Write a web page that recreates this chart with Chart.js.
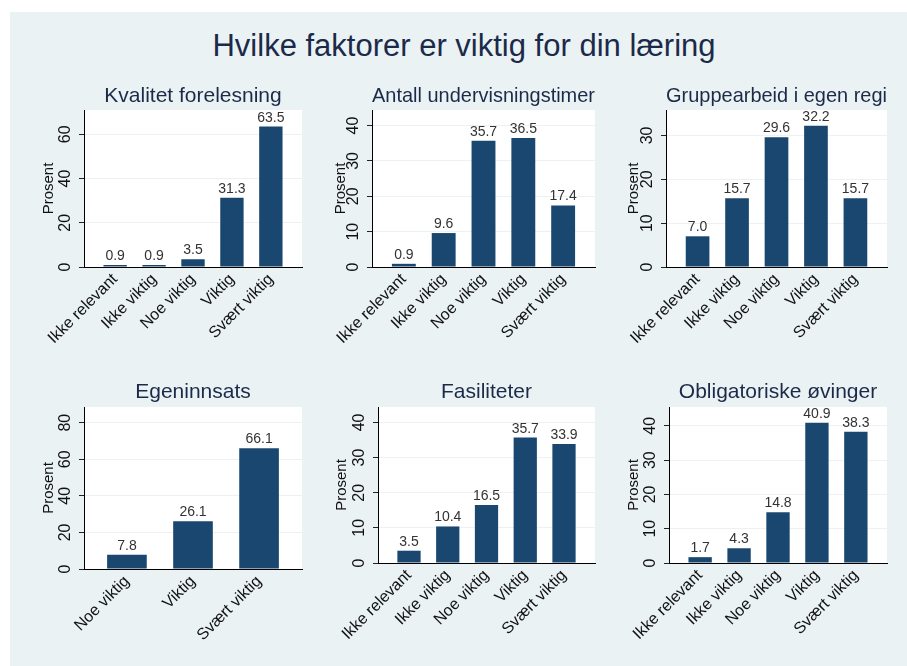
<!DOCTYPE html>
<html>
<head>
<meta charset="utf-8">
<script src="https://cdn.jsdelivr.net/npm/chart.js@4.4.0/dist/chart.umd.min.js"></script>
<style>
    html, body { margin: 0; padding: 0; background: #ffffff; }
    body { width: 907px; height: 666px; position: relative; overflow: hidden; font-family: 'Liberation Sans', Arial, sans-serif; }
    #frame { position: absolute; left: 10px; top: 12px; right: 0; bottom: 0; background: #eaf2f3; }
    #main-title { position: absolute; left: 0; width: 928px; top: 28px; line-height: 36px; text-align: center; font-size: 31px; color: #1c2a4a; }
    canvas { position: absolute; }
</style>
</head>
<body>
<div id="frame"></div>
<div id="main-title">Hvilke faktorer er viktig for din læring</div>

<script>
// ---- data ----
const catsAll = ['Ikke relevant', 'Ikke viktig', 'Noe viktig', 'Viktig', 'Svært viktig'];
const catsTop3 = ['Noe viktig', 'Viktig', 'Svært viktig'];

const kvalitetForelesning = [0.9, 0.9, 3.5, 31.3, 63.5];
const antallTimer = [0.9, 9.6, 35.7, 36.5, 17.4];
const gruppearbeid = [7.0, 15.7, 29.6, 32.2, 15.7];
const egeninnsats = [7.8, 26.1, 66.1];
const fasiliteter = [3.5, 10.4, 16.5, 35.7, 33.9];
const obligatoriske = [1.7, 4.3, 14.8, 40.9, 38.3];

const panelTitles = ['Kvalitet forelesning', 'Antall undervisningstimer', 'Gruppearbeid i egen regi',
                     'Egeninnsats', 'Fasiliteter', 'Obligatoriske øvinger'];
const panelCats = [catsAll, catsAll, catsAll, catsTop3, catsAll, catsAll];
const panelValues = [kvalitetForelesning, antallTimer, gruppearbeid, egeninnsats, fasiliteter, obligatoriske];

// y axis upper limits and tick steps
const yMax = [71, 44.4, 35.8, 88.6, 44.4, 45.5];
const yStep = [20, 10, 10, 20, 10, 10];

// ---- layout (page pixels) ----
const panelBoxes = [
    { left: 10,  top: 70,  width: 295, height: 300, plot: [84, 110, 302, 267], titleY: 96, yTitleX: 49,  gap: 0.8 },
    { left: 305, top: 70,  width: 295, height: 300, plot: [372, 110, 595, 267], titleY: 96, yTitleX: 341, gap: 0.8 },
    { left: 600, top: 70,  width: 307, height: 300, plot: [666, 110, 887, 267], titleY: 96, yTitleX: 634, gap: 0.8 },
    { left: 10,  top: 370, width: 295, height: 290, plot: [84, 407, 302, 569], titleY: 392, yTitleX: 49,  gap: 0.65 },
    { left: 305, top: 370, width: 295, height: 290, plot: [378, 407, 595, 563], titleY: 392, yTitleX: 342, gap: 0.8 },
    { left: 600, top: 370, width: 307, height: 290, plot: [669, 407, 887, 563], titleY: 392, yTitleX: 634, gap: 0.8 }
];

const FONT = "'Liberation Sans', Arial, sans-serif";
Chart.defaults.font.family = FONT;

const plotBackground = {
    id: 'plotBackground',
    beforeDraw(chart) {
        const { ctx, chartArea } = chart;
        ctx.save();
        ctx.fillStyle = '#ffffff';
        ctx.fillRect(chartArea.left, chartArea.top, chartArea.right - chartArea.left, chartArea.bottom - chartArea.top);
        ctx.restore();
    }
};

const valueLabels = {
    id: 'valueLabels',
    afterDatasetsDraw(chart) {
        const ctx = chart.ctx;
        const meta = chart.getDatasetMeta(0);
        const points = chart.data.datasets[0].data;
        ctx.save();
        ctx.font = '14px ' + FONT;
        ctx.fillStyle = '#333333';
        ctx.textAlign = 'center';
        ctx.textBaseline = 'alphabetic';
        meta.data.forEach((bar, i) => {
            ctx.fillText(points[i].y.toFixed(1), bar.x, bar.y - 5);
        });
        ctx.restore();
    }
};

function renderPanel(idx) {
    const box = panelBoxes[idx];
    const cats = panelCats[idx];
    const values = panelValues[idx];
    const [L, T, R, B] = box.plot;

    const canvas = document.createElement('canvas');
    canvas.width = box.width;
    canvas.height = box.height;
    canvas.style.left = box.left + 'px';
    canvas.style.top = box.top + 'px';
    document.body.appendChild(canvas);

    // title line box is 21 * 1.2 = 25.2px
    const titlePadTop = box.titleY - box.top - 12.6;
    const titlePadBottom = (T - box.top) - titlePadTop - 25.2;

    new Chart(canvas.getContext('2d'), {
        type: 'bar',
        data: {
            datasets: [{
                data: values.map((v, i) => ({ x: i + 1, y: v })),
                backgroundColor: '#1a476f',
                borderWidth: 0,
                categoryPercentage: 1,
                barPercentage: 0.6
            }]
        },
        options: {
            responsive: false,
            animation: false,
            layout: { padding: { left: 0, top: 0, bottom: 0, right: box.left + box.width - R } },
            plugins: {
                legend: { display: false },
                tooltip: { enabled: false },
                title: {
                    display: true,
                    text: panelTitles[idx],
                    fullSize: false,
                    color: '#1c2a4a',
                    font: { size: 21, weight: 'normal' },
                    padding: { top: titlePadTop, bottom: titlePadBottom }
                }
            },
            scales: {
                x: {
                    type: 'linear',
                    offset: false,
                    min: 1 - box.gap,
                    max: cats.length + box.gap,
                    afterBuildTicks: (s) => { s.ticks = cats.map((c, i) => ({ value: i + 1 })); },
                    afterFit: (s) => { s.height = box.top + box.height - B; },
                    grid: { display: false, drawTicks: false, offset: false },
                    border: { display: true, color: '#000000', width: 1 },
                    ticks: {
                        autoSkip: false,
                        minRotation: 45,
                        maxRotation: 45,
                        padding: 3,
                        color: '#111111',
                        font: { size: 16 },
                        callback: (v) => cats[v - 1] || ''
                    }
                },
                y: {
                    min: 0,
                    max: yMax[idx],
                    afterFit: (s) => { s.width = L - box.left; },
                    grid: {
                        color: (c) => (c.tick && c.tick.value === 0 ? 'rgba(0,0,0,0)' : '#eaf2f3'),
                        tickColor: '#222222',
                        tickLength: 5,
                        lineWidth: 1
                    },
                    border: { display: true, color: '#000000', width: 1 },
                    ticks: {
                        stepSize: yStep[idx],
                        includeBounds: false,
                        minRotation: 90,
                        maxRotation: 90,
                        crossAlign: 'center',
                        padding: 5,
                        color: '#111111',
                        font: { size: 16 }
                    },
                    title: {
                        display: true,
                        text: 'Prosent',
                        color: '#111111',
                        font: { size: 15 },
                        padding: { top: box.yTitleX - box.left - 9, bottom: 0 }
                    }
                }
            }
        },
        plugins: [plotBackground, valueLabels]
    });
}

panelBoxes.forEach((b, i) => renderPanel(i));
</script>
</body>
</html>
